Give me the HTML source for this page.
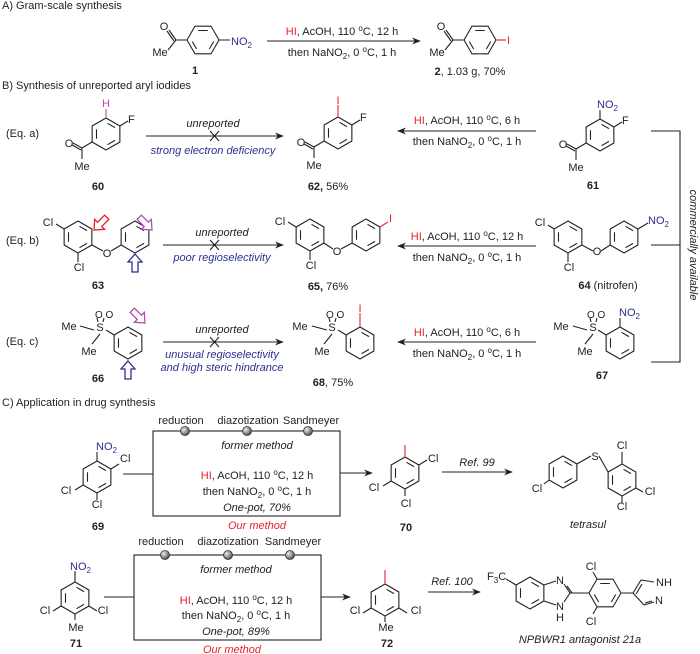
<!DOCTYPE html>
<html><head><meta charset="utf-8"><style>
html,body{margin:0;padding:0;background:#fff}
svg{display:block;font-family:"Liberation Sans",Arial,sans-serif;font-size:11px}
.b{font-weight:bold}.r{fill:#e8202a}.bl{fill:#2b2f8f}.m{fill:#b04fb0}.i{font-style:italic}
</style></head><body>
<svg width="700" height="654" viewBox="0 0 700 654" xmlns="http://www.w3.org/2000/svg">
<defs>
<g id="hx" fill="none" stroke="#222" stroke-width="1.1">
<polygon points="0,-16 13.86,-8 13.86,8 0,16 -13.86,8 -13.86,-8"/>
<path d="M1.5,-10.7L9,-6.4M9,6.4L1.5,10.7M-9.5,-4.8L-9.5,4.8"/>
</g>
<marker id="ah" viewBox="0 0 10 10" refX="9" refY="5" markerWidth="8" markerHeight="8" orient="auto"><path d="M0,1L10,5L0,9L3,5z" fill="#222"/></marker>
<radialGradient id="bg" cx="35%" cy="35%" r="65%"><stop offset="0" stop-color="#eee"/><stop offset="1" stop-color="#555"/></radialGradient>
<polygon id="ha" points="0,0 7,8 3,8 3,18 -3,18 -3,8 -7,8" fill="#fff" stroke-width="1.3"/>
</defs>
<g stroke="#222" stroke-width="1.1" fill="none">
<use href="#hx" transform="translate(203,40) rotate(90)"/>
<path d="M187,40L176,40M176,40L169,30M174,41L167,31M176,40L168,50M219,40L230,40"/>
<use href="#hx" transform="translate(480,40) rotate(90)"/>
<path d="M464,40L453,40M453,40L446,30M451,41L444,31M453,40L445,50"/>
<path d="M496,40L506,40" stroke="#e8202a"/>
<path d="M267,41L420,41" marker-end="url(#ah)"/>
<use href="#hx" x="106" y="134"/>
<path d="M106,118L106,109" stroke="#b04fb0"/>
<path d="M119.9,126L128,121M92.1,142L82,148M82,148L73,143M81,150L72,145M82,148L82,159"/>
<path d="M146,136L283,136" marker-end="url(#ah)"/>
<path d="M210,131L219,141M219,131L210,141"/>
<use href="#hx" x="338" y="133"/>
<path d="M338,117L338,105" stroke="#e8202a"/>
<path d="M351.9,125L360,120M324.1,141L314,147M314,147L305,142M313,149L304,144M314,147L314,158"/>
<path d="M536,131L398,131" marker-end="url(#ah)"/>
<use href="#hx" x="600" y="135"/>
<path d="M600,119L600,110M613.9,127L622,122M586.1,143L576,149M576,149L567,144M575,151L566,146M576,149L576,160"/>
<use href="#hx" x="78" y="237"/><use href="#hx" x="135" y="237"/>
<path d="M64.1,229L56,224M78,253L78,262M91.9,245L103,251M111,251L121.1,245"/>
<path d="M163,245L283,245" marker-end="url(#ah)"/>
<path d="M210,240L219,250M219,240L210,250"/>
<use href="#hx" x="310" y="235"/><use href="#hx" x="366" y="235"/>
<path d="M296.1,227L288,222M310,251L310,260M323.9,243L333,249M341,249L352.1,243"/>
<path d="M379.9,227L388,222" stroke="#e8202a"/>
<path d="M536,246L398,246" marker-end="url(#ah)"/>
<use href="#hx" x="568" y="237"/><use href="#hx" x="624" y="237"/>
<path d="M554.1,229L548,225M568,253L568,262M581.9,245L593,251M601,251L610.1,245M637.9,229L648,223"/>
<use href="#hx" x="128" y="343"/>
<path d="M114.1,335L106,330M94,330L80,326M100,334L92,344M97,318L98,322M104,318L103,322"/>
<path d="M163,342L283,342" marker-end="url(#ah)"/>
<path d="M210,337L219,347M219,337L210,347"/>
<use href="#hx" x="360" y="343"/>
<path d="M346.1,335L338,330M327,330L312,326M332,334L324,344M329,318L330,322M336,318L335,322"/>
<path d="M360,327L360,313" stroke="#e8202a"/>
<path d="M536,342L398,342" marker-end="url(#ah)"/>
<use href="#hx" x="620" y="343"/>
<path d="M606.1,335L598,330M587,330L573,326M593,334L585,344M590,318L591,322M597,318L596,322M620,327L620,318"/>
<path d="M651,131L680,131L680,362L651,362M651,245L680,245"/>
<rect x="153" y="431" width="187" height="85"/>
<path d="M123,474L153,474"/>
<path d="M340,473L372,473" marker-end="url(#ah)"/>
<use href="#hx" x="97" y="477"/>
<path d="M97,461L97,452M110.9,469L119,464M83.1,485L75,490M97,493L97,500"/>
<use href="#hx" x="405" y="473"/>
<path d="M405,457L405,445" stroke="#e8202a"/>
<path d="M418.9,465L427,460M391.1,481L383,486M405,489L405,496"/>
<path d="M442,472L512,472" marker-end="url(#ah)"/>
<use href="#hx" x="563" y="472"/><use href="#hx" x="622" y="480"/>
<path d="M576.9,464L591,456M599,456L608.1,472M549.1,480L544,484M622,464L622,452M635.9,488L643,492M622,496L622,503"/>
<rect x="134" y="555" width="187" height="85"/>
<path d="M104,597L134,597"/>
<path d="M321,597L350,597" marker-end="url(#ah)"/>
<use href="#hx" x="75" y="598"/>
<path d="M75,582L75,571M61.1,606L53,611M88.9,606L97,611M75,614L75,620"/>
<use href="#hx" x="385" y="600"/>
<path d="M385,584L385,570" stroke="#e8202a"/>
<path d="M371.1,608L363,613M398.9,608L407,613M385,616L385,622"/>
<path d="M428,592L480,592" marker-end="url(#ah)"/>
<use href="#hx" x="530" y="593"/>
<path d="M516.1,585L506,579M543.9,585L556,581M543.9,601L556,605M564,584L570,593L564,602M567,586L572,593M570,593L589,593"/>
<use href="#hx" transform="translate(605,593) rotate(90)"/>
<path d="M597,579L593,572M597,607L593,614M621,593L633,593M633,593L641,580M641,580L654,582M633,593L644,605M644,605L654,602M636,594L642,584M645,603L652,601"/>
</g>
<g fill="url(#bg)" stroke="#333" stroke-width="0.8">
<circle cx="185" cy="431" r="4.5"/><circle cx="247" cy="431" r="4.5"/><circle cx="308" cy="431" r="4.5"/>
<circle cx="165" cy="555" r="4.5"/><circle cx="228" cy="555" r="4.5"/><circle cx="290" cy="555" r="4.5"/>
</g>
<use href="#ha" stroke="#e8202a" transform="translate(94,230) rotate(225)"/>
<use href="#ha" stroke="#b04fb0" transform="translate(152,230) rotate(135)"/>
<use href="#ha" stroke="#2b2f8f" transform="translate(135,254)"/>
<use href="#ha" stroke="#b04fb0" transform="translate(145,323) rotate(135)"/>
<use href="#ha" stroke="#2b2f8f" transform="translate(128,361)"/>
<g fill="#222">
<text x="2" y="9">A) Gram-scale synthesis</text>
<text x="2" y="89">B) Synthesis of unreported aryl iodides</text>
<text x="2" y="406">C) Application in drug synthesis</text>
<text x="164" y="30" text-anchor="middle">O</text><text x="160" y="56" text-anchor="middle">Me</text>
<text x="231" y="45" class="bl">NO<tspan font-size="8" dy="3">2</tspan></text>
<text x="195" y="74" class="b" text-anchor="middle">1</text>
<text x="342" y="35" text-anchor="middle"><tspan class="r">HI</tspan>, AcOH, 110 <tspan font-size="8" dy="-4">o</tspan><tspan dy="4">C, 12 h</tspan></text>
<text x="342" y="56" text-anchor="middle">then NaNO<tspan font-size="8" dy="3">2</tspan><tspan dy="-3">, 0 </tspan><tspan font-size="8" dy="-4">o</tspan><tspan dy="4">C, 1 h</tspan></text>
<text x="441" y="30" text-anchor="middle">O</text><text x="437" y="56" text-anchor="middle">Me</text>
<text x="507" y="44" class="r">I</text>
<text x="470" y="75" text-anchor="middle"><tspan class="b">2</tspan>, 1.03 g, 70%</text>
<text x="6" y="137">(Eq. a)</text>
<text x="106" y="107" class="m" text-anchor="middle">H</text>
<text x="128" y="123">F</text>
<text x="69" y="147" text-anchor="middle">O</text><text x="82" y="170" text-anchor="middle">Me</text>
<text x="98" y="190" class="b" text-anchor="middle">60</text>
<text x="213" y="127" class="i" text-anchor="middle">unreported</text>
<text x="213" y="154" class="i bl" text-anchor="middle">strong electron deficiency</text>
<text x="338" y="104" class="r" text-anchor="middle">I</text>
<text x="360" y="121">F</text>
<text x="301" y="146" text-anchor="middle">O</text><text x="314" y="169" text-anchor="middle">Me</text>
<text x="328" y="190" text-anchor="middle"><tspan class="b">62,</tspan> 56%</text>
<text x="467" y="124" text-anchor="middle"><tspan class="r">HI</tspan>, AcOH, 110 <tspan font-size="8" dy="-4">o</tspan><tspan dy="4">C, 6 h</tspan></text>
<text x="467" y="145" text-anchor="middle">then NaNO<tspan font-size="8" dy="3">2</tspan><tspan dy="-3">, 0 </tspan><tspan font-size="8" dy="-4">o</tspan><tspan dy="4">C, 1 h</tspan></text>
<text x="597" y="108" class="bl">NO<tspan font-size="8" dy="3">2</tspan></text>
<text x="622" y="124">F</text>
<text x="563" y="148" text-anchor="middle">O</text><text x="576" y="171" text-anchor="middle">Me</text>
<text x="593" y="189" class="b" text-anchor="middle">61</text>
<text x="6" y="244">(Eq. b)</text>
<text x="48" y="226" text-anchor="middle">Cl</text><text x="79" y="271" text-anchor="middle">Cl</text><text x="107" y="257" text-anchor="middle">O</text>
<text x="98" y="289" class="b" text-anchor="middle">63</text>
<text x="222" y="236" class="i" text-anchor="middle">unreported</text>
<text x="222" y="261" class="i bl" text-anchor="middle">poor regioselectivity</text>
<text x="280" y="225" text-anchor="middle">Cl</text><text x="311" y="269" text-anchor="middle">Cl</text><text x="337" y="255" text-anchor="middle">O</text>
<text x="389" y="222" class="r">I</text>
<text x="328" y="290" text-anchor="middle"><tspan class="b">65,</tspan> 76%</text>
<text x="467" y="240" text-anchor="middle"><tspan class="r">HI</tspan>, AcOH, 110 <tspan font-size="8" dy="-4">o</tspan><tspan dy="4">C, 12 h</tspan></text>
<text x="467" y="261" text-anchor="middle">then NaNO<tspan font-size="8" dy="3">2</tspan><tspan dy="-3">, 0 </tspan><tspan font-size="8" dy="-4">o</tspan><tspan dy="4">C, 1 h</tspan></text>
<text x="540" y="226" text-anchor="middle">Cl</text><text x="569" y="271" text-anchor="middle">Cl</text><text x="597" y="255" text-anchor="middle">O</text>
<text x="648" y="224" class="bl">NO<tspan font-size="8" dy="3">2</tspan></text>
<text x="608" y="289" text-anchor="middle"><tspan class="b">64</tspan> (nitrofen)</text>
<text transform="translate(690,245) rotate(90)" class="i" text-anchor="middle">commercially available</text>
<text x="6" y="345">(Eq. c)</text>
<text x="69" y="330" text-anchor="middle">Me</text><text x="100" y="331" text-anchor="middle">S</text><text x="95" y="318" font-size="10">O O</text><text x="89" y="355" text-anchor="middle">Me</text>
<text x="98" y="382" class="b" text-anchor="middle">66</text>
<text x="222" y="333" class="i" text-anchor="middle">unreported</text>
<text x="222" y="358" class="i bl" text-anchor="middle">unusual regioselectivity</text>
<text x="222" y="371" class="i bl" text-anchor="middle">and high steric hindrance</text>
<text x="300" y="330" text-anchor="middle">Me</text><text x="332" y="331" text-anchor="middle">S</text><text x="326" y="318" font-size="10">O O</text><text x="322" y="355" text-anchor="middle">Me</text>
<text x="360" y="312" class="r" text-anchor="middle">I</text>
<text x="333" y="386" text-anchor="middle"><tspan class="b">68</tspan>, 75%</text>
<text x="467" y="336" text-anchor="middle"><tspan class="r">HI</tspan>, AcOH, 110 <tspan font-size="8" dy="-4">o</tspan><tspan dy="4">C, 6 h</tspan></text>
<text x="467" y="357" text-anchor="middle">then NaNO<tspan font-size="8" dy="3">2</tspan><tspan dy="-3">, 0 </tspan><tspan font-size="8" dy="-4">o</tspan><tspan dy="4">C, 1 h</tspan></text>
<text x="561" y="330" text-anchor="middle">Me</text><text x="593" y="331" text-anchor="middle">S</text><text x="587" y="318" font-size="10">O O</text><text x="585" y="355" text-anchor="middle">Me</text>
<text x="619" y="316" class="bl">NO<tspan font-size="8" dy="3">2</tspan></text>
<text x="602" y="379" class="b" text-anchor="middle">67</text>
<text x="181" y="424" text-anchor="middle">reduction</text><text x="248" y="424" text-anchor="middle">diazotization</text><text x="311" y="424" text-anchor="middle">Sandmeyer</text>
<text x="257" y="449" class="i" text-anchor="middle">former method</text>
<text x="257" y="479" text-anchor="middle"><tspan class="r">HI</tspan>, AcOH, 110 <tspan font-size="8" dy="-4">o</tspan><tspan dy="4">C, 12 h</tspan></text>
<text x="257" y="495" text-anchor="middle">then NaNO<tspan font-size="8" dy="3">2</tspan><tspan dy="-3">, 0 </tspan><tspan font-size="8" dy="-4">o</tspan><tspan dy="4">C, 1 h</tspan></text>
<text x="257" y="511" class="i" text-anchor="middle">One-pot, 70%</text>
<text x="257" y="529" class="i r" text-anchor="middle">Our method</text>
<text x="96" y="450" class="bl">NO<tspan font-size="8" dy="3">2</tspan></text>
<text x="120" y="462">Cl</text><text x="66" y="494" text-anchor="middle">Cl</text><text x="97" y="508" text-anchor="middle">Cl</text>
<text x="98" y="530" class="b" text-anchor="middle">69</text>
<text x="428" y="462">Cl</text><text x="374" y="491" text-anchor="middle">Cl</text><text x="406" y="507" text-anchor="middle">Cl</text>
<text x="406" y="531" class="b" text-anchor="middle">70</text>
<text x="477" y="466" class="i" text-anchor="middle">Ref. 99</text>
<text x="595" y="460" text-anchor="middle">S</text>
<text x="537" y="492" text-anchor="middle">Cl</text><text x="622" y="449" text-anchor="middle">Cl</text><text x="650" y="495" text-anchor="middle">Cl</text><text x="622" y="510" text-anchor="middle">Cl</text>
<text x="588" y="528" class="i" text-anchor="middle">tetrasul</text>
<text x="161" y="545" text-anchor="middle">reduction</text><text x="228" y="545" text-anchor="middle">diazotization</text><text x="293" y="545" text-anchor="middle">Sandmeyer</text>
<text x="236" y="573" class="i" text-anchor="middle">former method</text>
<text x="236" y="604" text-anchor="middle"><tspan class="r">HI</tspan>, AcOH, 110 <tspan font-size="8" dy="-4">o</tspan><tspan dy="4">C, 12 h</tspan></text>
<text x="236" y="619" text-anchor="middle">then NaNO<tspan font-size="8" dy="3">2</tspan><tspan dy="-3">, 0 </tspan><tspan font-size="8" dy="-4">o</tspan><tspan dy="4">C, 1 h</tspan></text>
<text x="236" y="635" class="i" text-anchor="middle">One-pot, 89%</text>
<text x="232" y="653" class="i r" text-anchor="middle">Our method</text>
<text x="70" y="570" class="bl">NO<tspan font-size="8" dy="3">2</tspan></text>
<text x="45" y="614" text-anchor="middle">Cl</text><text x="103" y="614" text-anchor="middle">Cl</text><text x="76" y="631" text-anchor="middle">Me</text>
<text x="76" y="647" class="b" text-anchor="middle">71</text>
<text x="355" y="614" text-anchor="middle">Cl</text><text x="416" y="614" text-anchor="middle">Cl</text><text x="386" y="631" text-anchor="middle">Me</text>
<text x="387" y="647" class="b" text-anchor="middle">72</text>
<text x="452" y="585" class="i" text-anchor="middle">Ref. 100</text>
<text x="487" y="580">F<tspan font-size="8" dy="3">3</tspan><tspan dy="-3">C</tspan></text>
<text x="560" y="584" text-anchor="middle">N</text><text x="560" y="610" text-anchor="middle">N</text><text x="560" y="621" text-anchor="middle">H</text>
<text x="591" y="570" text-anchor="middle">Cl</text><text x="591" y="625" text-anchor="middle">Cl</text>
<text x="656" y="586">NH</text><text x="655" y="604">N</text>
<text x="580" y="643" class="i" text-anchor="middle">NPBWR1 antagonist 21a</text>
</g>
</svg>
</body></html>
